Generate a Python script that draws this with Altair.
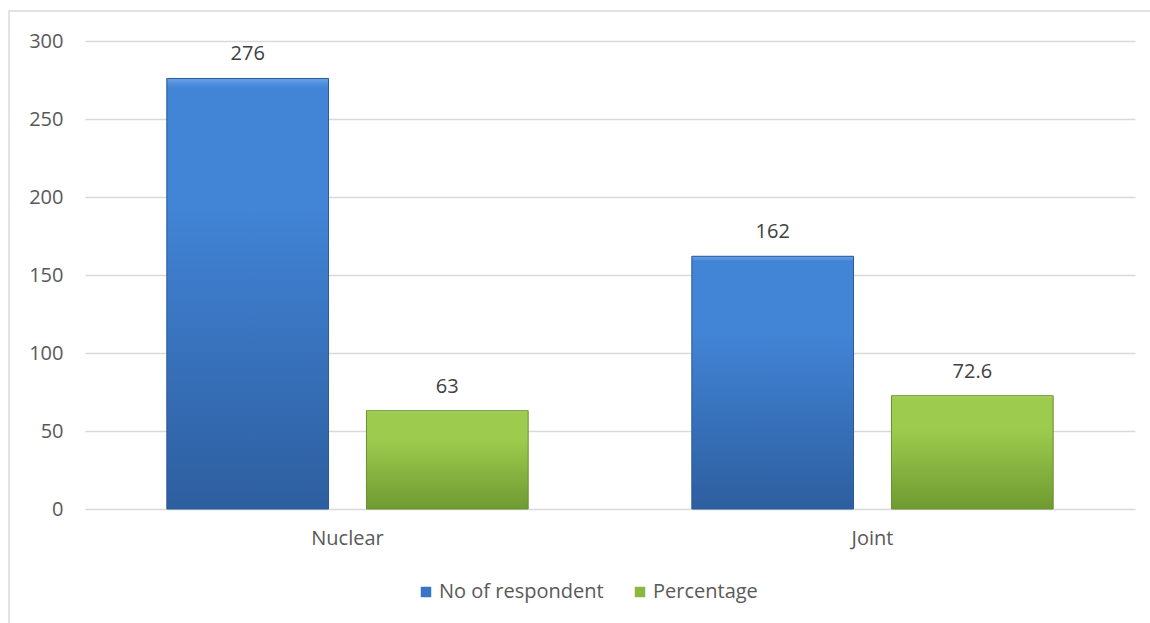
import altair as alt
import pandas as pd

# Family type breakdown: respondent counts and percentages
categories = ["Nuclear", "Joint"]
series = ["No of respondent", "Percentage"]
respondents = [276, 162]
percentages = [63, 72.6]
y_ticks = [0, 50, 100, 150, 200, 250, 300]

rows = []
for i, cat in enumerate(categories):
    rows.append({"type": cat, "series": series[0], "value": respondents[i]})
    rows.append({"type": cat, "series": series[1], "value": percentages[i]})
df = pd.DataFrame(rows)

FONT = "Open Sans"
TEXT = "#595959"
GRID = "#d9d9d9"

x_enc = alt.X(
    "type:N", sort=categories,
    scale=alt.Scale(paddingInner=0, paddingOuter=0),
    axis=alt.Axis(title=None, labelAngle=0, ticks=False, domain=False,
                  labelFont=FONT, labelFontSize=20, labelColor=TEXT,
                  labelPadding=19),
)
xo_enc = alt.XOffset(
    "series:N", sort=series,
    scale=alt.Scale(paddingInner=0.19, paddingOuter=0.41),
)
y_enc = alt.Y(
    "value:Q", scale=alt.Scale(domain=[0, 300], nice=False),
    axis=alt.Axis(title=None, values=y_ticks, ticks=False, domain=False,
                  grid=True, gridColor=GRID, gridWidth=1.5,
                  labelFont=FONT, labelFontSize=20, labelColor=TEXT,
                  labelPadding=22),
)

base = alt.Chart(df).encode(x=x_enc, xOffset=xo_enc, y=y_enc)

# Solid bars carry the legend
solid = base.mark_bar().encode(
    color=alt.Color(
        "series:N", sort=series,
        scale=alt.Scale(domain=series, range=["#3a74c4", "#8cb83f"]),
        legend=alt.Legend(
            title=None, orient="none", direction="horizontal",
            legendX=331, legendY=541, symbolType="square", symbolSize=110,
            symbolStrokeWidth=0, labelFont=FONT, labelFontSize=20,
            labelColor=TEXT, columnPadding=26, labelOffset=3,
            labelLimit=400,
        ),
    )
)


def shaded(name, top, mid, bottom, edge):
    grad = alt.Gradient(
        gradient="linear",
        stops=[
            alt.GradientStop(color=top, offset=0),
            alt.GradientStop(color=mid, offset=0.02),
            alt.GradientStop(color=mid, offset=0.3),
            alt.GradientStop(color=bottom, offset=1),
        ],
        x1=0, x2=0, y1=0, y2=1,
    )
    return base.mark_bar(fill=grad, stroke=edge, strokeWidth=1).transform_filter(
        alt.datum.series == name
    )


blue = shaded(series[0], "#6aa3e8", "#4284d6", "#2d5e9f", "#2b5a98")
green = shaded(series[1], "#c0e07a", "#9ccb4e", "#6f9a31", "#6a9030")

labels = base.mark_text(
    baseline="alphabetic", dy=-18, font=FONT, fontSize=20, color="#404040"
).encode(text=alt.Text("value:Q"))

# Outer chart frame
frame = alt.Chart(pd.DataFrame({"k": [0]})).mark_rect(
    fill=None, stroke="#d9d9d9", strokeWidth=1.5, clip=False
).encode(
    x=alt.value(-76), x2=alt.value(1075),
    y=alt.value(-30), y2=alt.value(600),
)

chart = (
    alt.layer(frame, solid, blue, green, labels)
    .properties(
        width=1050, height=468,
        autosize=alt.AutoSizeParams(type="none"),
        padding={"left": 85, "top": 41, "right": 15, "bottom": 114},
        background="white",
    )
    .configure_view(stroke=None)
)

chart.save("out.html", embed_options={"renderer": "svg", "actions": False})
